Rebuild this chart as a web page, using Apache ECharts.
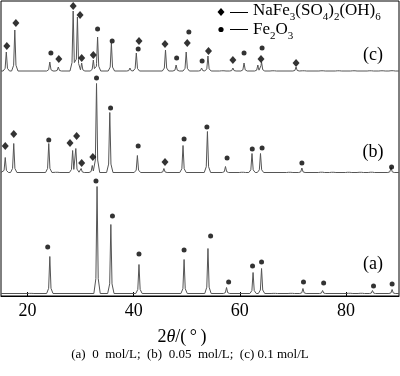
<!DOCTYPE html>
<html>
<head>
<meta charset="utf-8">
<script src="https://cdn.jsdelivr.net/npm/echarts@6/dist/echarts.min.js"></script>
<style>
  html, body { margin: 0; padding: 0; background: #fff; }
  #chart { width: 400px; height: 376px; }
</style>
</head>
<body>
<div id="chart"></div>
<script>
// x axis (2theta, degrees)
const xMin = 15
const xMax = 90
const xTicks = [20, 40, 60, 80]

// baselines of the three stacked patterns (plot units, 0 = bottom axis)
const baseA = 2.5
const baseB = 123.5
const baseC = 225

// peaks: [2theta, height above baseline]
const peaksA = [
  [20.6, 0.8], [24.2, 37], [33.1, 107], [35.7, 69], [41.0, 29], [49.5, 34],
  [54.0, 45], [57.5, 6], [62.5, 21], [64.1, 25], [66.5, 0.8], [69.7, 1.2],
  [71.9, 5], [75.6, 3], [80.7, 1.5], [82.9, 1.5], [85.0, 3], [88.7, 4],
]
const peaksB = [
  [15.8, 15], [17.4, 29], [24.0, 29], [25.5, 1.5], [28.5, 22], [29.1, 24],
  [30.1, 4], [32.2, 7], [33.0, 89], [35.5, 60], [40.7, 17], [45.7, 4],
  [49.3, 27], [53.9, 41], [57.3, 6], [60.5, 1.5], [62.3, 19], [63.9, 19],
  [69.4, 1.5], [71.7, 4.5], [75.4, 2], [77.5, 1.5], [80.5, 1.5], [82.7, 1.5],
  [84.8, 2], [88.5, 5],
]
const peaksC = [
  [16.0, 19], [17.6, 41], [24.2, 9], [25.8, 4], [28.6, 60], [29.4, 54],
  [30.2, 8], [32.4, 11], [33.2, 34], [35.8, 28], [39.3, 3], [40.5, 18],
  [46.0, 21], [48.0, 6], [49.9, 19], [52.8, 3], [54.0, 15], [56.8, 1.5],
  [58.7, 3], [60.8, 8], [63.4, 6], [64.1, 9], [66.3, 1.5], [70.6, 4],
  [72.0, 1.5], [75.5, 1.5], [78.6, 1.5], [81.5, 1.5], [84.6, 1.5], [86.8, 1.5],
  [88.7, 2],
]

// phase markers: [2theta, plot height]
const diamondsB = [
  [15.8, 150], [17.4, 162], [28.0, 153], [29.25, 160], [30.2, 133], [32.3, 139], [45.9, 134],
]
const circlesB = [
  [24.0, 156], [33.0, 218], [35.65, 188], [40.85, 150], [49.5, 157], [53.8, 169],
  [57.6, 138], [62.35, 147], [64.2, 148], [71.7, 133], [88.6, 129],
]
const diamondsC = [
  [16.1, 250], [17.8, 273], [25.9, 237], [28.6, 290], [29.9, 281], [30.2, 238],
  [32.4, 241], [41.0, 255], [45.9, 252], [50.1, 253], [54.1, 245], [58.7, 236],
  [64.0, 237], [70.6, 233],
]
const circlesC = [
  [24.4, 243], [33.2, 267], [35.95, 255], [40.85, 247], [48.1, 238], [50.4, 264],
  [52.9, 235], [60.8, 243], [64.2, 248],
]
const circlesA = [
  [23.8, 49], [32.9, 115], [36.0, 80], [41.0, 42], [49.5, 46], [54.5, 60],
  [57.9, 14], [62.4, 30], [64.1, 34], [72.0, 14], [75.8, 13], [85.2, 10], [88.7, 12],
]

const FONT = 'Liberation Serif'

// polyline through the peak outlines (sharp top, flared foot)
function trace(peaks, base) {
  const shape = [[-0.6, 0], [-0.22, 0.14], [0, 1], [0.22, 0.14], [0.6, 0]]
  const xs = [xMin, xMax]
  peaks.forEach(p => shape.forEach(s => xs.push(+(p[0] + s[0]).toFixed(3))))
  const uniq = [...new Set(xs)].filter(x => x >= xMin && x <= xMax).sort((a, b) => a - b)
  return uniq.map(x => {
    let h = 0
    peaks.forEach(([c, amp]) => {
      const d = x - c
      for (let i = 0; i < shape.length - 1; i++) {
        const [d0, f0] = shape[i]
        const [d1, f1] = shape[i + 1]
        if (d >= d0 && d <= d1) {
          h = Math.max(h, amp * (f0 + (f1 - f0) * (d - d0) / (d1 - d0)))
          break
        }
      }
    })
    return [x, base + h]
  })
}

function lineSeries(data) {
  return {
    type: 'line',
    data,
    showSymbol: false,
    symbol: 'none',
    lineStyle: { color: '#555', width: 1 },
    silent: true,
    z: 2,
  }
}

function markSeries(data, symbol) {
  return {
    type: 'scatter',
    data,
    symbol,
    symbolSize: symbol === 'diamond' ? [7, 8] : 5,
    itemStyle: { color: '#000' },
    silent: true,
    z: 3,
  }
}

const sub = { fontSize: 11, fontFamily: FONT, fill: '#000', padding: [12, 0, 0, 0] }
const main = { fontSize: 17, fontFamily: FONT, fill: '#000' }

const chart = echarts.init(document.getElementById('chart'), null, { renderer: 'canvas' })
chart.setOption({
  animation: false,
  backgroundColor: '#fff',
  grid: {
    left: 1, right: 1, top: 1, bottom: 80,
    show: true, borderColor: '#000', borderWidth: 1,
  },
  xAxis: {
    type: 'value',
    min: xMin,
    max: xMax,
    axisLine: { show: true, lineStyle: { color: '#000', width: 1 } },
    axisTick: { show: true, inside: true, length: 4, customValues: xTicks, lineStyle: { color: '#000' } },
    axisLabel: { customValues: xTicks, color: '#000', fontSize: 18, fontFamily: FONT, margin: 6 },
    splitLine: { show: false },
  },
  yAxis: {
    type: 'value',
    min: 0,
    max: 295,
    axisLine: { show: false },
    axisTick: { show: false },
    axisLabel: { show: false },
    splitLine: { show: false },
  },
  series: [
    lineSeries(trace(peaksA, baseA)),
    lineSeries(trace(peaksB, baseB)),
    lineSeries(trace(peaksC, baseC)),
    markSeries(circlesA, 'circle'),
    markSeries(circlesB, 'circle'),
    markSeries(diamondsB, 'diamond'),
    markSeries(circlesC, 'circle'),
    markSeries(diamondsC, 'diamond'),
  ],
  graphic: [
    // legend
    { type: 'polygon', shape: { points: [[221, 8], [224.5, 12], [221, 16], [217.5, 12]] }, style: { fill: '#000' } },
    { type: 'line', shape: { x1: 230, y1: 12.5, x2: 248, y2: 12.5 }, style: { stroke: '#000', lineWidth: 1 } },
    {
      type: 'text', x: 253, y: 11,
      style: {
        text: '{m|NaFe}{s|3}{m|(SO}{s|4}{m|)}{s|2}{m|(OH)}{s|6}',
        rich: { m: main, s: sub }, verticalAlign: 'middle', align: 'left',
      },
    },
    { type: 'circle', shape: { cx: 221, cy: 29.5, r: 2.6 }, style: { fill: '#000' } },
    { type: 'line', shape: { x1: 230, y1: 29.5, x2: 248, y2: 29.5 }, style: { stroke: '#000', lineWidth: 1 } },
    {
      type: 'text', x: 253, y: 30,
      style: {
        text: '{m|Fe}{s|2}{m|O}{s|3}',
        rich: { m: main, s: sub }, verticalAlign: 'middle', align: 'left',
      },
    },
    // pattern labels
    { type: 'text', x: 373, y: 55, style: { text: '(c)', fontSize: 18, fontFamily: FONT, fill: '#000', align: 'center', verticalAlign: 'middle' } },
    { type: 'text', x: 373, y: 152, style: { text: '(b)', fontSize: 18, fontFamily: FONT, fill: '#000', align: 'center', verticalAlign: 'middle' } },
    { type: 'text', x: 373, y: 264, style: { text: '(a)', fontSize: 18, fontFamily: FONT, fill: '#000', align: 'center', verticalAlign: 'middle' } },
    // axis name
    {
      type: 'text', x: 182, y: 337,
      style: {
        text: '{m|2}{i|θ}{m|/(\u2009°\u2009)}',
        rich: {
          m: { fontSize: 18, fontFamily: FONT, fill: '#000' },
          i: { fontSize: 18, fontFamily: FONT, fontStyle: 'italic', fill: '#000' },
        },
        align: 'center', verticalAlign: 'middle',
      },
    },
    // caption
    {
      type: 'text', x: 190, y: 355,
      style: {
        text: '(a)  0  mol/L;  (b)  0.05  mol/L;  (c) 0.1 mol/L',
        fontSize: 13, fontFamily: FONT, fill: '#000', align: 'center', verticalAlign: 'middle',
      },
    },
  ],
})
</script>
</body>
</html>
